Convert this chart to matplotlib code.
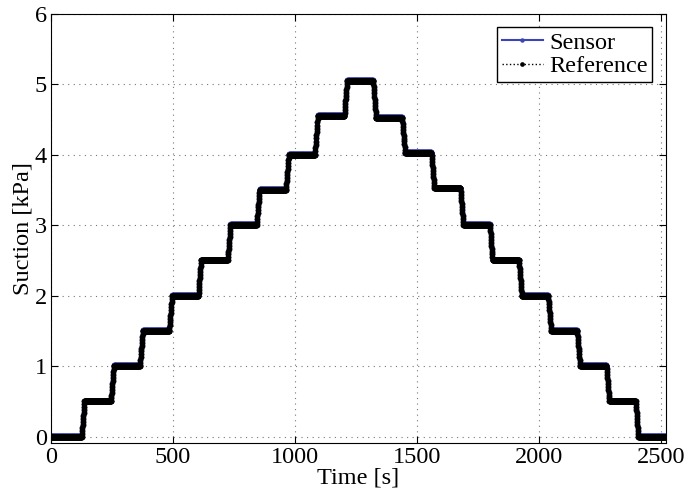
import numpy as np
import matplotlib.pyplot as plt

plt.rcParams['font.family'] = ['Liberation Serif', 'DejaVu Serif']

# Instantes de cambio de escalon [s]
t_cambio = [125, 245, 364, 484, 603, 723, 842, 962, 1081, 1201,
            1319, 1438, 1558, 1677, 1797, 1916, 2036, 2155, 2275, 2394]
# Niveles de succion [kPa] (uno mas que cambios)
niveles_ref = [0.0, 0.5, 1.0, 1.5, 2.0, 2.5, 3.0, 3.5, 4.0, 4.55, 5.04,
               4.52, 4.02, 3.52, 3.0, 2.5, 2.0, 1.5, 1.0, 0.5, 0.0]
niveles_sensor = [0.01, 0.51, 1.01, 1.51, 2.01, 2.51, 3.01, 3.51, 4.01, 4.56, 5.06,
                  4.53, 4.03, 3.53, 3.01, 2.51, 2.01, 1.51, 1.01, 0.51, 0.01]
duracion_rampa = 12  # duracion de cada transicion [s]
t_fin = 2518
dt = 1


def serie(niveles):
    # puntos de quiebre de la escalera
    bp_t = [0]
    bp_y = [niveles[0]]
    for i, tc in enumerate(t_cambio):
        bp_t += [tc, tc + duracion_rampa]
        bp_y += [niveles[i], niveles[i + 1]]
    bp_t.append(t_fin)
    bp_y.append(niveles[-1])
    t = np.arange(0, t_fin + dt, dt)
    return t, np.interp(t, bp_t, bp_y)


t_s, y_s = serie(niveles_sensor)
t_r, y_r = serie(niveles_ref)

fig = plt.figure(figsize=(6.85, 5.03), dpi=100)
ax = fig.add_axes([0.0745, 0.12, 0.8975, 0.853])

ax.plot(t_s, y_s, '-', color='#3b44b8', lw=1.5, marker='o', ms=4.0,
        markeredgewidth=0, label='Sensor')
ax.plot(t_r, y_r, ':', color='black', lw=1.0, marker='o', ms=4.2,
        markeredgewidth=0, label='Reference')

ax.set_xlim(0, 2518)
ax.set_ylim(-0.085, 6)
ax.set_xticks([0, 500, 1000, 1500, 2000, 2500])
ax.set_yticks([0, 1, 2, 3, 4, 5, 6])
ax.tick_params(direction='in', top=True, right=True, labelsize=17.5, length=5, pad=3)
ax.grid(True, linestyle=(0, (1, 4)), color='#777777', linewidth=0.8)
ax.set_xlabel('Time [s]', fontsize=17.5, labelpad=0)
ax.set_ylabel('Suction [kPa]', fontsize=17.5, labelpad=1)

leg = ax.legend(loc='upper right', fontsize=17.5, fancybox=False, framealpha=1,
                edgecolor='black', borderaxespad=0.55, handlelength=1.7,
                borderpad=0.2, labelspacing=0.05, handletextpad=0.25,
                markerscale=0.8)
leg.get_frame().set_linewidth(1.0)

fig.savefig('out.png', dpi=100)
